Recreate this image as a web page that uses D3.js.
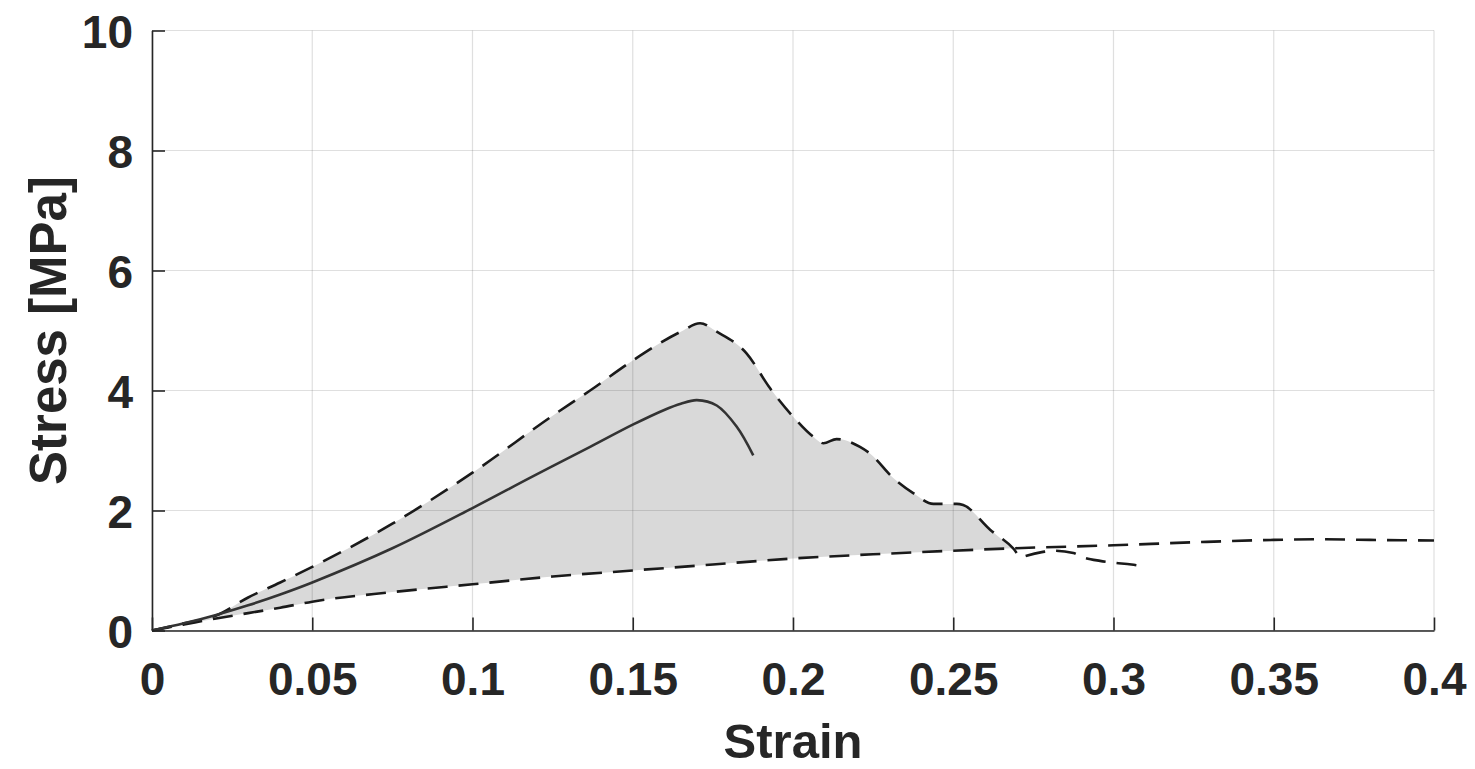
<!DOCTYPE html>
<html>
<head>
<meta charset="utf-8">
<script src="https://cdn.jsdelivr.net/npm/d3@7"></script>
<style>
  html, body { margin: 0; padding: 0; background: #fff; }
  svg { display: block; }
  text { font-family: "Liberation Sans", Arial, Helvetica, sans-serif; font-weight: bold; fill: #262626; }
</style>
</head>
<body>
<svg id="chart" width="1475" height="769"></svg>
<script>
// ---- data ----
const strainMean = [0, 0.01, 0.02, 0.03, 0.04, 0.05, 0.075, 0.1, 0.1185, 0.1367, 0.15, 0.16, 0.165, 0.17, 0.1762, 0.1824, 0.1876];
const stressMean = [0, 0.12, 0.26, 0.42, 0.6, 0.8, 1.37, 2.04, 2.56, 3.06, 3.43, 3.68, 3.78, 3.84, 3.75, 3.40, 2.92];

const strainUpper = [0, 0.01, 0.02, 0.03, 0.04, 0.05, 0.075, 0.1, 0.125, 0.1367, 0.15, 0.165, 0.171, 0.1762, 0.1855, 0.1928, 0.2001, 0.2063, 0.2095, 0.2136, 0.2209, 0.224, 0.2313, 0.2375, 0.2438, 0.2511, 0.2531, 0.2615, 0.2687, 0.2712, 0.2724, 0.278, 0.281, 0.2875, 0.29, 0.2958, 0.30, 0.3056, 0.308];
const stressUpper = [0, 0.12, 0.25, 0.55, 0.8, 1.06, 1.78, 2.63, 3.58, 4.0, 4.5, 4.98, 5.12, 4.98, 4.62, 4.04, 3.56, 3.23, 3.12, 3.19, 3.06, 2.95, 2.54, 2.29, 2.11, 2.11, 2.09, 1.68, 1.37, 1.22, 1.24, 1.31, 1.33, 1.29, 1.23, 1.16, 1.13, 1.10, 1.08];

const strainLower = [0, 0.01, 0.02, 0.03, 0.04, 0.05, 0.075, 0.1, 0.125, 0.15, 0.175, 0.2, 0.225, 0.25, 0.2687, 0.3, 0.325, 0.35, 0.365, 0.38, 0.4];
const stressLower = [0, 0.1, 0.2, 0.29, 0.38, 0.48, 0.64, 0.77, 0.9, 1.0, 1.1, 1.2, 1.27, 1.33, 1.37, 1.42, 1.47, 1.51, 1.52, 1.51, 1.5];

const crossStrain = 0.2687; // where envelopes meet
const xTicks = [0, 0.05, 0.1, 0.15, 0.2, 0.25, 0.3, 0.35, 0.4];
const xTickLabels = ["0", "0.05", "0.1", "0.15", "0.2", "0.25", "0.3", "0.35", "0.4"];
const yTicks = [0, 2, 4, 6, 8, 10];
const xLabel = "Strain";
const yLabel = "Stress [MPa]";

// ---- layout ----
const L = 152, R = 1434, T = 30.5, B = 630.5;
const svg = d3.select("#chart");
const x = d3.scaleLinear().domain([0, 0.4]).range([L, R]);
const y = d3.scaleLinear().domain([0, 10]).range([B, T]);

const zip = (a, b) => a.map((v, i) => [v, b[i]]);
const mean = zip(strainMean, stressMean);
const upper = zip(strainUpper, stressUpper);
const lower = zip(strainLower, stressLower);

const line = d3.line().x(d => x(d[0])).y(d => y(d[1])).curve(d3.curveMonotoneX);

// ---- fill between envelopes ----
const upperPart = upper.filter(d => d[0] <= crossStrain);
const lowerPart = lower.filter(d => d[0] <= crossStrain).slice().reverse();
const areaPath = line(upperPart) + "L" + line(lowerPart).slice(1) + "Z";
svg.append("path").attr("d", areaPath).attr("fill", "#d9d9d9").attr("stroke", "none");

// ---- grid ----
const grid = svg.append("g");
grid.selectAll("line.gx").data(xTicks).join("line")
  .attr("x1", d => x(d)).attr("x2", d => x(d)).attr("y1", T).attr("y2", B)
  .attr("stroke", "rgba(38,38,38,0.15)").attr("stroke-width", 1.2);
grid.selectAll("line.gy").data(yTicks).join("line")
  .attr("x1", L).attr("x2", R).attr("y1", d => y(d)).attr("y2", d => y(d))
  .attr("stroke", "rgba(38,38,38,0.15)").attr("stroke-width", 1.2);

// ---- curves ----
svg.append("path").datum(lower).attr("d", line)
  .attr("fill", "none").attr("stroke", "#1a1a1a").attr("stroke-width", 2.6)
  .attr("stroke-dasharray", "20,11");
svg.append("path").datum(upper).attr("d", line)
  .attr("fill", "none").attr("stroke", "#1a1a1a").attr("stroke-width", 2.6)
  .attr("stroke-dasharray", "20,11");
svg.append("path").datum(mean).attr("d", d3.line().x(d => x(d[0])).y(d => y(d[1])).curve(d3.curveCatmullRom))
  .attr("fill", "none").attr("stroke", "#333333").attr("stroke-width", 2.6);

// ---- axes ----
const xAxis = d3.axisBottom(x).tickValues(xTicks)
  .tickFormat((d, i) => xTickLabels[i]).tickSizeInner(-13).tickSizeOuter(0).tickPadding(32);
const gx = svg.append("g").attr("transform", `translate(0,${B})`).call(xAxis);
const yAxis = d3.axisLeft(y).tickValues(yTicks).tickFormat(d3.format("d"))
  .tickSizeInner(-13).tickSizeOuter(0).tickPadding(19);
const gy = svg.append("g").attr("transform", `translate(${L},0)`).call(yAxis);

[gx, gy].forEach(g => {
  g.select(".domain").attr("stroke", "#262626").attr("stroke-width", 1.6);
  g.selectAll(".tick line").attr("stroke", "#262626").attr("stroke-width", 1.6);
  g.selectAll(".tick text").attr("fill", "#262626")
    .style("font-size", "46px").style("font-weight", "bold")
    .style("font-family", '"Liberation Sans", Arial, sans-serif');
});
gy.selectAll(".tick text").attr("dy", "0.36em");

// ---- labels ----
svg.append("text").attr("x", (L + R) / 2).attr("y", 758)
  .attr("text-anchor", "middle").style("font-size", "49px").text(xLabel);
svg.append("text").attr("transform", `translate(66,${(T + B) / 2}) rotate(-90)`)
  .attr("text-anchor", "middle").style("font-size", "51px").text(yLabel);
</script>
</body>
</html>
